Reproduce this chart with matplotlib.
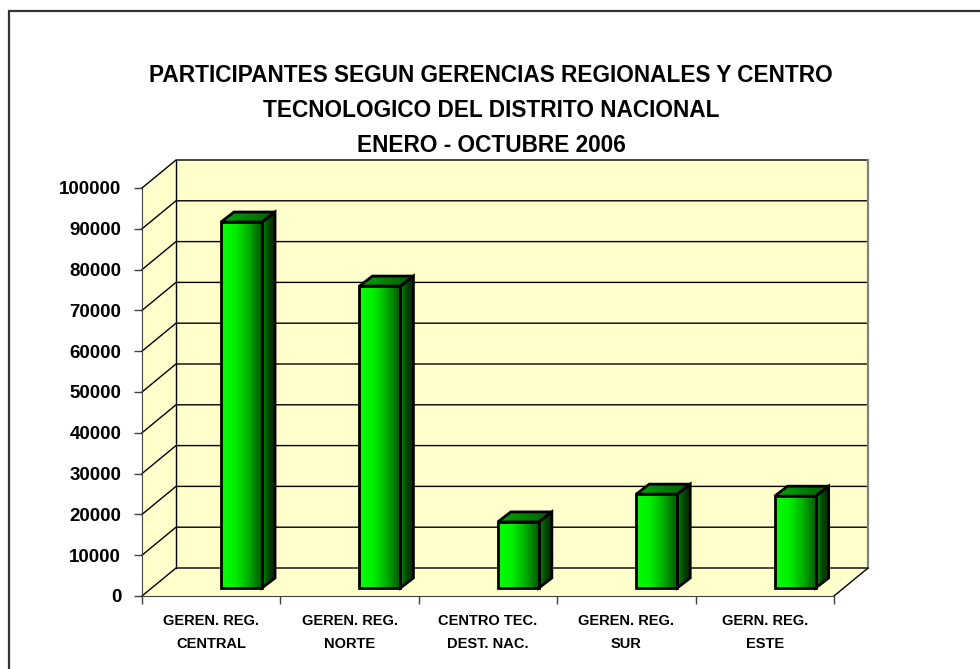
import numpy as np
import matplotlib
matplotlib.use("Agg")
import matplotlib.pyplot as plt
from matplotlib.patches import Polygon, Rectangle
from matplotlib.colors import LinearSegmentedColormap

plt.rcParams['font.family'] = ['Liberation Sans', 'DejaVu Sans']

# datos
categorias = ["GEREN. REG.\nCENTRAL", "GEREN. REG.\nNORTE", "CENTRO TEC.\nDEST. NAC.",
              "GEREN. REG.\nSUR", "GERN. REG.\nESTE"]
participantes = [89700, 74000, 16200, 23000, 22500]
titulo = ["PARTICIPANTES SEGUN GERENCIAS REGIONALES Y CENTRO",
          "TECNOLOGICO DEL DISTRITO NACIONAL",
          "ENERO - OCTUBRE 2006"]
yticks = np.arange(0, 100001, 10000)

W, H = 980, 669
fig = plt.figure(figsize=(W / 100, H / 100), dpi=100)

# marco exterior
fig.patches.append(Rectangle((9 / W, -0.2), 1.2, 1.2 - 11 / H, transform=fig.transFigure,
                             fill=False, edgecolor='#333333', lw=1.6))

ax = fig.add_axes([142 / W, 1 - 596 / H, (834 - 142) / W, (596 - 188) / H])
ax.set_xlim(-0.5, 4.5)
ax.set_ylim(0, 100000)

px_x = (834 - 142) / 5          # pixeles por categoria
px_y = (596 - 188) / 100000     # pixeles por unidad
DX = 34 / px_x                  # profundidad del piso
DY = 28 / px_y

pared = '#FFFFCC'
x0, x1 = -0.5, 4.5

# pared izquierda, fondo y piso
ax.add_patch(Polygon([(x0, 0), (x0 + DX, DY), (x0 + DX, 1e5 + DY), (x0, 1e5)],
                     closed=True, facecolor=pared, edgecolor='none', clip_on=False, zorder=1))
ax.add_patch(Polygon([(x0 + DX, DY), (x1 + DX, DY), (x1 + DX, 1e5 + DY), (x0 + DX, 1e5 + DY)],
                     closed=True, facecolor=pared, edgecolor='none', clip_on=False, zorder=1))
ax.add_patch(Polygon([(x0, 0), (x1, 0), (x1 + DX, DY), (x0 + DX, DY)],
                     closed=True, facecolor=pared, edgecolor='none', clip_on=False, zorder=1))

# lineas de division
for v in yticks:
    ax.plot([x0, x0 + DX, x1 + DX], [v, v + DY, v + DY], color='black', lw=1.0,
            clip_on=False, zorder=2)
ax.plot([x0 + DX, x0 + DX], [DY, 1e5 + DY], color='black', lw=1.0, clip_on=False, zorder=2)
ax.plot([x1 + DX, x1 + DX], [DY, 1e5 + DY], color='#808080', lw=1.6, clip_on=False, zorder=2)
ax.plot([x1, x1 + DX], [0, DY], color='black', lw=1, clip_on=False, zorder=2)

# barras 3D
frente = LinearSegmentedColormap.from_list('f', ['#00FF00', '#00F000', '#00B000', '#005A00'])
lado = LinearSegmentedColormap.from_list('l', ['#008A00', '#004A00', '#002800'])
tapa = LinearSegmentedColormap.from_list('t', ['#00A800', '#008000', '#006000'])
grad = np.linspace(0, 1, 64).reshape(1, -1)

off = 0.071
bw = 41 / px_x
base = 8 / px_y
bdx = 13 / px_x
bdy = 10 / px_y

for i, v in enumerate(participantes):
    l = i + off
    r = l + bw
    b = base
    t = base + v
    # lado
    side = Polygon([(r, b), (r + bdx, b + bdy), (r + bdx, t + bdy), (r, t)], closed=True,
                   facecolor='none', edgecolor='black', lw=2, zorder=5, clip_on=False)
    ax.add_patch(side)
    im = ax.imshow(grad, cmap=lado, extent=[r, r + bdx, b, t + bdy], aspect='auto', zorder=4)
    im.set_clip_path(side)
    # tapa
    top = Polygon([(l, t), (r, t), (r + bdx, t + bdy), (l + bdx, t + bdy)], closed=True,
                  facecolor='none', edgecolor='black', lw=2, zorder=5, clip_on=False)
    ax.add_patch(top)
    im = ax.imshow(grad, cmap=tapa, extent=[l, r + bdx, t, t + bdy], aspect='auto', zorder=4)
    im.set_clip_path(top)
    # frente
    fr = ax.bar(l, v, width=bw, bottom=b, align='edge', facecolor='none',
                edgecolor='black', lw=2, zorder=6)[0]
    im = ax.imshow(grad, cmap=frente, extent=[l, r, b, t], aspect='auto', zorder=5.5)
    im.set_clip_path(fr)

ax.set_xlim(-0.5, 4.5)
ax.set_ylim(0, 100000)

# ejes
for s in ['top', 'right']:
    ax.spines[s].set_visible(False)
ax.spines['left'].set_color('#404040')
ax.spines['bottom'].set_color('#404040')
ax.spines['left'].set_zorder(3)
ax.spines['bottom'].set_zorder(3)
ax.patch.set_visible(False)

ax.set_yticks(yticks)
ax.set_yticklabels([str(v) for v in yticks], fontsize=13.5, fontweight='bold')
ax.tick_params(axis='y', length=6, width=1, color='#404040', pad=9)

ax.set_xticks(range(5))
ax.set_xticklabels(categorias, fontsize=10.5, fontweight='bold', linespacing=1.85)
ax.set_xticks(np.arange(-0.5, 5, 1), minor=True)
ax.tick_params(axis='x', which='major', length=0, pad=13)
ax.tick_params(axis='x', which='minor', length=6, width=1, color='#404040')

# titulo
for k, linea in enumerate(titulo):
    fig.text(491 / W, 1 - (75 + k * 35.5) / H, linea, ha='center', va='center',
             fontsize=16.3, fontweight='bold')

fig.savefig('out.png', dpi=100)
